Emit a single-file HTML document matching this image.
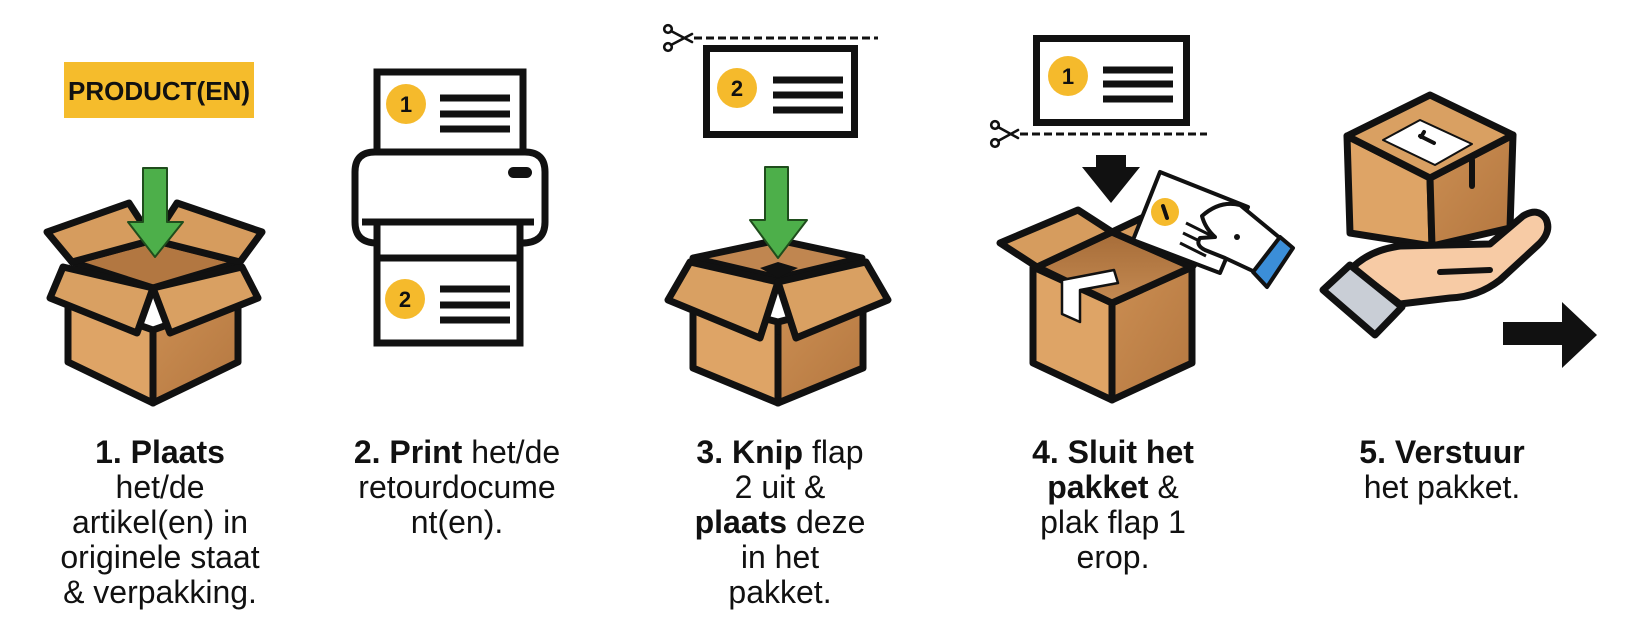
<!DOCTYPE html>
<html>
<head>
<meta charset="utf-8">
<style>
  html,body{margin:0;padding:0;background:#ffffff;}
  body{width:1632px;height:640px;overflow:hidden;}
  svg{display:block;}
  .t{font-family:"Liberation Sans",Arial,sans-serif;font-size:32px;fill:#111;}
  .b{font-weight:bold;}
</style>
</head>
<body>
<svg width="1632" height="640" viewBox="0 0 1632 640" xmlns="http://www.w3.org/2000/svg">
  <defs>
    <linearGradient id="rf" x1="0" y1="0" x2="1" y2="1">
      <stop offset="0" stop-color="#CB8E52"/>
      <stop offset="1" stop-color="#B47740"/>
    </linearGradient>
    <linearGradient id="inn" x1="0" y1="0" x2="0" y2="1">
      <stop offset="0" stop-color="#A66C38"/>
      <stop offset="1" stop-color="#C48A52"/>
    </linearGradient>
  </defs>
  <rect width="1632" height="640" fill="#ffffff"/>

  <!-- ============ STEP 1 ============ -->
  <rect x="64" y="62" width="190" height="56" fill="#F5BC2C"/>
  <text x="159" y="100" text-anchor="middle" font-family="Liberation Sans, Arial, sans-serif" font-weight="bold" font-size="26" fill="#111">PRODUCT(EN)</text>

  <g stroke="#111" stroke-width="7" stroke-linejoin="round" stroke-linecap="round">
    <polygon points="68,300 153,330 153,403 68,362" fill="#DEA466"/>
    <polygon points="153,330 238,300 238,362 153,403" fill="url(#rf)"/>
    <polygon points="72,262 153,240 240,262 153,288" fill="#B27741"/>
    <polygon points="47,232 129,203 153,240 72,262" fill="#D69C5E"/>
    <polygon points="153,240 177,203 262,232 240,262" fill="#D69C5E"/>
    <polygon points="63,267 153,288 137,333 50,298" fill="#D9A062"/>
    <polygon points="153,288 242,267 258,298 170,333" fill="#D9A062"/>
    <line x1="153" y1="333" x2="153" y2="403"/>
  </g>
  <path d="M143,168 H167 V222 H183 L155,257 L128,222 H143 Z" fill="#4DAF4A" stroke="#1f4d1c" stroke-width="2" stroke-linejoin="round"/>

  <!-- ============ STEP 2 : printer ============ -->
  <g stroke="#111" stroke-width="7" fill="#fff">
    <rect x="377" y="72" width="146" height="90"/>
    <path d="M377,243 Q355,243 355,222 V172 Q355,152 375,152 H525 Q545,152 545,172 V222 Q545,243 522,243"/>
    <path d="M377,222 V343 H520 V222"/>
    <line x1="377" y1="258" x2="520" y2="258"/>
    <line x1="362" y1="222" x2="534" y2="222"/>
  </g>
  <rect x="508" y="167" width="24" height="11" rx="5.5" fill="#111"/>
  <circle cx="406" cy="104" r="20" fill="#F5BA2C"/>
  <text x="406" y="112" text-anchor="middle" font-family="Liberation Sans, Arial, sans-serif" font-weight="bold" font-size="22" fill="#111">1</text>
  <g stroke="#111" stroke-width="7">
    <line x1="440" y1="98" x2="510" y2="98"/>
    <line x1="440" y1="114" x2="510" y2="114"/>
    <line x1="440" y1="129" x2="510" y2="129"/>
    <line x1="440" y1="289" x2="510" y2="289"/>
    <line x1="440" y1="305" x2="510" y2="305"/>
    <line x1="440" y1="320" x2="510" y2="320"/>
  </g>
  <circle cx="405" cy="299" r="20" fill="#F5BA2C"/>
  <text x="405" y="307" text-anchor="middle" font-family="Liberation Sans, Arial, sans-serif" font-weight="bold" font-size="22" fill="#111">2</text>

  <!-- ============ STEP 3 ============ -->
  <g stroke="#111" stroke-width="2.6" fill="none" stroke-linecap="round">
    <circle cx="668" cy="29" r="3.8"/>
    <circle cx="668" cy="47" r="3.8"/>
    <line x1="671" y1="31" x2="692" y2="42"/>
    <line x1="671" y1="45" x2="692" y2="34"/>
  </g>
  <line x1="694" y1="38" x2="878" y2="38" stroke="#111" stroke-width="3" stroke-dasharray="8,4"/>
  <rect x="706.5" y="48.5" width="148" height="86" fill="#fff" stroke="#111" stroke-width="7"/>
  <circle cx="737" cy="88" r="20" fill="#F5BA2C"/>
  <text x="737" y="96" text-anchor="middle" font-family="Liberation Sans, Arial, sans-serif" font-weight="bold" font-size="22" fill="#111">2</text>
  <g stroke="#111" stroke-width="7">
    <line x1="773" y1="80" x2="843" y2="80"/>
    <line x1="773" y1="95" x2="843" y2="95"/>
    <line x1="773" y1="110" x2="843" y2="110"/>
  </g>
  <g stroke="#111" stroke-width="7" stroke-linejoin="round" stroke-linecap="round">
    <polygon points="693,300 778,322 778,403 693,368" fill="#DEA466"/>
    <polygon points="778,322 863,300 863,368 778,403" fill="url(#rf)"/>
    <polygon points="693,258 778,240 862,258 778,278" fill="#C08650"/>
    <polygon points="690,262 778,282 760,338 668,300" fill="#D9A062"/>
    <polygon points="778,282 866,262 888,300 796,338" fill="#D9A062"/>
    <line x1="778" y1="338" x2="778" y2="403"/>
  </g>
  <polygon points="760,268 778,262 798,268 778,278" fill="#111"/>
  <path d="M765,167 H788 V220 H807 L778,258 L750,220 H765 Z" fill="#4DAF4A" stroke="#1f4d1c" stroke-width="2" stroke-linejoin="round"/>

  <!-- ============ STEP 4 ============ -->
  <rect x="1036.5" y="38.5" width="150" height="84" fill="#fff" stroke="#111" stroke-width="7"/>
  <circle cx="1068" cy="76" r="20" fill="#F5BA2C"/>
  <text x="1068" y="84" text-anchor="middle" font-family="Liberation Sans, Arial, sans-serif" font-weight="bold" font-size="22" fill="#111">1</text>
  <g stroke="#111" stroke-width="7">
    <line x1="1103" y1="70" x2="1173" y2="70"/>
    <line x1="1103" y1="84" x2="1173" y2="84"/>
    <line x1="1103" y1="99" x2="1173" y2="99"/>
  </g>
  <g stroke="#111" stroke-width="2.6" fill="none" stroke-linecap="round">
    <circle cx="995" cy="125" r="3.8"/>
    <circle cx="995" cy="143" r="3.8"/>
    <line x1="998" y1="127" x2="1018" y2="138"/>
    <line x1="998" y1="141" x2="1018" y2="130"/>
  </g>
  <line x1="1020" y1="134" x2="1207" y2="134" stroke="#111" stroke-width="3" stroke-dasharray="8,4"/>
  <path d="M1096,155 H1126 V167 H1140 L1111,203 L1082,167 H1096 Z" fill="#111"/>
  <g stroke="#111" stroke-width="7" stroke-linejoin="round" stroke-linecap="round">
    <polygon points="1033,267 1112,303 1112,400 1033,363" fill="#DEA466"/>
    <polygon points="1112,303 1192,267 1192,363 1112,400" fill="url(#rf)"/>
    <polygon points="1037,267 1112,232 1192,267 1112,303" fill="url(#inn)"/>
    <polygon points="1000,243 1078,210 1112,232 1037,267" fill="#D69C5E"/>
    <polygon points="1112,232 1150,214 1205,250 1192,267" fill="#D69C5E"/>
  </g>
  <polygon points="1062,280 1114,270 1118,283 1080,290 1080,322 1062,314" fill="#fff" stroke="#111" stroke-width="2.5" stroke-linejoin="round"/>
  <polygon points="1160,172 1248,207 1220,273 1133,240" fill="#fff" stroke="#111" stroke-width="4" stroke-linejoin="round"/>
  <circle cx="1165" cy="212" r="14" fill="#F5BA2C"/>
  <line x1="1163" y1="206" x2="1167" y2="218" stroke="#111" stroke-width="4" stroke-linecap="round"/>
  <g stroke="#111" stroke-width="3">
    <line x1="1186" y1="223" x2="1212" y2="236"/>
    <line x1="1183" y1="233" x2="1212" y2="247"/>
    <line x1="1180" y1="243" x2="1206" y2="256"/>
  </g>
  <path d="M1202,216 Q1220,200 1240,205 L1280,238 L1255,272 L1225,258 L1205,250 Q1195,245 1200,238 L1215,237 Q1205,228 1202,216 Z" fill="#fff" stroke="#111" stroke-width="4" stroke-linejoin="round"/>
  <circle cx="1237" cy="237" r="3" fill="#111"/>
  <polygon points="1253,272 1280,237 1293,248 1267,287" fill="#3B8ED8" stroke="#111" stroke-width="4" stroke-linejoin="round"/>

  <!-- ============ STEP 5 ============ -->
  <g transform="translate(0,8)">
    <g stroke="#111" stroke-width="7" stroke-linejoin="round" stroke-linecap="round">
      <polygon points="1347,128 1430,170 1432,238 1350,225" fill="#DEA466"/>
      <polygon points="1430,170 1513,127 1510,220 1432,238" fill="url(#rf)"/>
      <polygon points="1347,128 1430,87 1513,127 1430,170" fill="#D9A062"/>
    </g>
    <polygon points="1383,132 1420,112 1472,136 1435,157" fill="#fff" stroke="#111" stroke-width="2" stroke-linejoin="round"/>
    <line x1="1420" y1="128" x2="1434" y2="135" stroke="#111" stroke-width="4" stroke-linecap="round"/>
    <line x1="1424" y1="124" x2="1421" y2="129" stroke="#111" stroke-width="4" stroke-linecap="round"/>
    <line x1="1472" y1="152" x2="1472" y2="178" stroke="#111" stroke-width="6" stroke-linecap="round"/>
  </g>
  <path d="M1352,268 Q1370,250 1400,246 L1490,244 L1523,216 Q1538,207 1546,219 Q1552,232 1538,245 L1500,280 Q1478,297 1450,298 L1400,304 Z" fill="#F7CBA5" stroke="#111" stroke-width="7" stroke-linejoin="round"/>
  <line x1="1440" y1="272" x2="1490" y2="270" stroke="#111" stroke-width="6" stroke-linecap="round"/>
  <polygon points="1323,290 1350,265 1402,307 1375,335" fill="#C9CED6" stroke="#111" stroke-width="7" stroke-linejoin="round"/>
  <path d="M1503,322 H1562 V302 L1597,335 L1562,368 V345 H1503 Z" fill="#111"/>

  <!-- ============ TEXT ============ -->
  <g class="t" text-anchor="middle">
    <text x="160" y="463"><tspan class="b">1. Plaats</tspan></text>
    <text x="160" y="498">het/de</text>
    <text x="160" y="533">artikel(en) in</text>
    <text x="160" y="568">originele staat</text>
    <text x="160" y="603">&amp; verpakking.</text>

    <text x="457" y="463"><tspan class="b">2. Print</tspan> het/de</text>
    <text x="457" y="498">retourdocume</text>
    <text x="457" y="533">nt(en).</text>

    <text x="780" y="463"><tspan class="b">3. Knip</tspan> flap</text>
    <text x="780" y="498">2 uit &amp;</text>
    <text x="780" y="533"><tspan class="b">plaats</tspan> deze</text>
    <text x="780" y="568">in het</text>
    <text x="780" y="603">pakket.</text>

    <text x="1113" y="463"><tspan class="b">4. Sluit het</tspan></text>
    <text x="1113" y="498"><tspan class="b">pakket</tspan> &amp;</text>
    <text x="1113" y="533">plak flap 1</text>
    <text x="1113" y="568">erop.</text>

    <text x="1442" y="463"><tspan class="b">5. Verstuur</tspan></text>
    <text x="1442" y="498">het pakket.</text>
  </g>
</svg>
</body>
</html>
